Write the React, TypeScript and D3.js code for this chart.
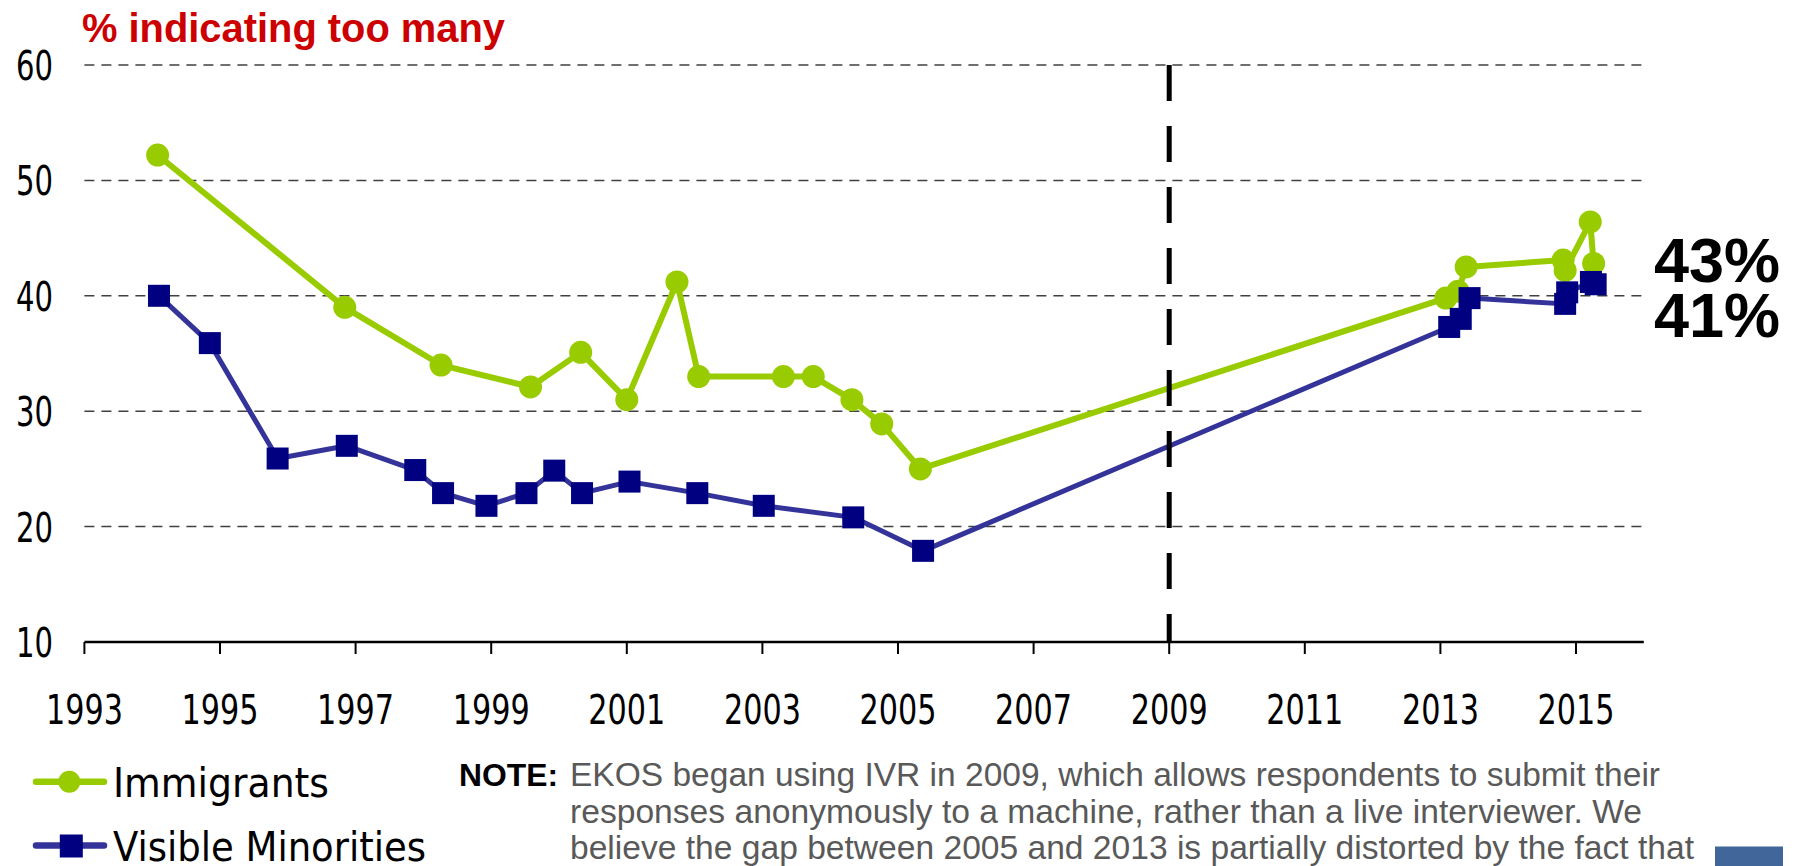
import React from "react";
import * as d3 from "d3";

// values (x = survey date as fractional year, y = %)
const immigrantYears = [
  1994.08, 1996.84, 1998.26, 1999.58, 2000.32, 2001.0, 2001.74, 2002.06,
  2003.31, 2003.75, 2004.32, 2004.76, 2005.33, 2013.08, 2013.26, 2013.38,
  2014.81, 2014.84, 2015.21, 2015.26,
];
const immigrantValues = [
  52.2, 39.0, 34.0, 32.1, 35.1, 31.0, 41.2, 33.0, 33.0, 33.0, 31.0, 28.9, 25.0,
  39.8, 40.4, 42.5, 43.1, 42.2, 46.4, 42.8,
];

const minorityYears = [
  1994.1, 1994.85, 1995.85, 1996.87, 1997.88, 1998.29, 1998.93, 1999.52,
  1999.93, 2000.34, 2001.04, 2002.04, 2003.02, 2004.34, 2005.37, 2013.13,
  2013.3, 2013.43, 2014.84, 2014.87, 2015.22, 2015.29,
];
const minorityValues = [
  40.0, 35.9, 25.9, 27.0, 24.9, 22.9, 21.8, 22.9, 24.85, 22.9, 23.9, 22.9,
  21.8, 20.8, 17.9, 37.3, 38.0, 39.8, 39.3, 40.3, 41.2, 41.0,
];

const yTicks = [10, 20, 30, 40, 50, 60];
const xTicks = [1993, 1995, 1997, 1999, 2001, 2003, 2005, 2007, 2009, 2011, 2013, 2015];
const ivrYear = 2009;

const noteLines = [
  "EKOS began using IVR in 2009, which allows respondents to submit their",
  "responses anonymously to a machine, rather than a live interviewer. We",
  "believe the gap between 2005 and 2013 is partially distorted by the fact that",
];
const noteWidths = [1090, 1072, 1124];

const GREEN = "#99CC00";
const NAVY = "#000080";
const NAVY_LINE = "#333399";
const tickFont = "'DejaVu Sans Condensed', 'DejaVu Sans', Tahoma, sans-serif";
const arial = "'Liberation Sans', Arial, sans-serif";

const App = () => {
  const width = 1798;
  const height = 866;

  const x = d3.scaleLinear().domain([1993, 2016]).range([84.4, 1643.8]);
  const y = d3.scaleLinear().domain([10, 60]).range([642, 65]);

  const immigrants = immigrantYears.map((yr, i) => [yr, immigrantValues[i]]);
  const minorities = minorityYears.map((yr, i) => [yr, minorityValues[i]]);

  const line = d3
    .line()
    .x((d) => x(d[0]))
    .y((d) => y(d[1]));

  const sq = 22;

  return (
    <svg
      width={width}
      height={height}
      style={{ position: "absolute", left: 0, top: 0, background: "#fff" }}
    >
      {/* title */}
      <text
        x={82}
        y={42}
        fontFamily={arial}
        fontWeight="bold"
        fontSize={41}
        fill="#CC0000"
        textLength={423}
        lengthAdjust="spacingAndGlyphs"
      >
        % indicating too many
      </text>

      {/* grid */}
      {yTicks
        .filter((t) => t !== 10)
        .map((t) => (
          <line
            key={"g" + t}
            x1={x(1993)}
            x2={x(2016)}
            y1={y(t)}
            y2={y(t)}
            stroke="#404040"
            strokeWidth={1.5}
            strokeDasharray="10,7"
          />
        ))}

      {/* y labels */}
      {yTicks.map((t) => (
        <text
          key={"yl" + t}
          x={53}
          y={y(t) + 15}
          textAnchor="end"
          fontFamily={tickFont}
          fontSize={41}
          fill="#000"
          textLength={37}
          lengthAdjust="spacingAndGlyphs"
        >
          {t}
        </text>
      ))}

      {/* x axis */}
      <line x1={x(1993)} x2={x(2016)} y1={y(10)} y2={y(10)} stroke="#000" strokeWidth={2.6} />
      {xTicks.map((t) => (
        <g key={"xt" + t}>
          <line x1={x(t)} x2={x(t)} y1={y(10)} y2={y(10) + 12} stroke="#000" strokeWidth={2} />
          <text
            x={x(t)}
            y={724}
            textAnchor="middle"
            fontFamily={tickFont}
            fontSize={41}
            fill="#000"
            textLength={77}
            lengthAdjust="spacingAndGlyphs"
          >
            {t}
          </text>
        </g>
      ))}

      {/* Immigrants */}
      <path d={line(immigrants)} fill="none" stroke={GREEN} strokeWidth={6} strokeLinejoin="round" />
      {immigrants.map((d, i) => (
        <circle key={"c" + i} cx={x(d[0])} cy={y(d[1])} r={11.5} fill={GREEN} />
      ))}

      {/* Visible minorities */}
      <path d={line(minorities)} fill="none" stroke={NAVY_LINE} strokeWidth={5} strokeLinejoin="round" />
      {minorities.map((d, i) => (
        <rect
          key={"s" + i}
          x={x(d[0]) - sq / 2}
          y={y(d[1]) - sq / 2}
          width={sq}
          height={sq}
          fill={NAVY}
        />
      ))}

      {/* IVR marker */}
      <line
        x1={x(ivrYear)}
        x2={x(ivrYear)}
        y1={y(60)}
        y2={y(10)}
        stroke="#000"
        strokeWidth={5}
        strokeDasharray="36,25"
      />

      {/* end labels */}
      <text x={1780} y={281.7} textAnchor="end" fontFamily={arial} fontWeight="bold" fontSize={63} fill="#000">
        43%
      </text>
      <text x={1780} y={337} textAnchor="end" fontFamily={arial} fontWeight="bold" fontSize={63} fill="#000">
        41%
      </text>

      {/* legend */}
      <line x1={36} x2={104} y1={781.7} y2={781.7} stroke={GREEN} strokeWidth={6.5} strokeLinecap="round" />
      <circle cx={69.3} cy={781.7} r={11} fill={GREEN} />
      <text
        x={113}
        y={796.7}
        fontFamily={tickFont}
        fontSize={41}
        fill="#000"
        textLength={216}
        lengthAdjust="spacingAndGlyphs"
      >
        Immigrants
      </text>
      <line x1={36} x2={104} y1={845.5} y2={845.5} stroke={NAVY_LINE} strokeWidth={6.5} strokeLinecap="round" />
      <rect x={71.3 - 11.5} y={846 - 11.5} width={23} height={23} fill={NAVY} />
      <text
        x={113}
        y={860.7}
        fontFamily={tickFont}
        fontSize={41}
        fill="#000"
        textLength={313}
        lengthAdjust="spacingAndGlyphs"
      >
        Visible Minorities
      </text>

      {/* note */}
      <text
        x={459}
        y={786}
        fontFamily={arial}
        fontWeight="bold"
        fontSize={31}
        fill="#000"
        textLength={99}
        lengthAdjust="spacingAndGlyphs"
      >
        NOTE:
      </text>
      {noteLines.map((t, i) => (
        <text
          key={"n" + i}
          x={570}
          y={786 + i * 36.5}
          fontFamily={arial}
          fontSize={33}
          fill="#595959"
          textLength={noteWidths[i]}
          lengthAdjust="spacingAndGlyphs"
        >
          {t}
        </text>
      ))}

      <rect x={1715} y={846.5} width={68} height={20} fill="#41679A" />
    </svg>
  );
};

export default App;
